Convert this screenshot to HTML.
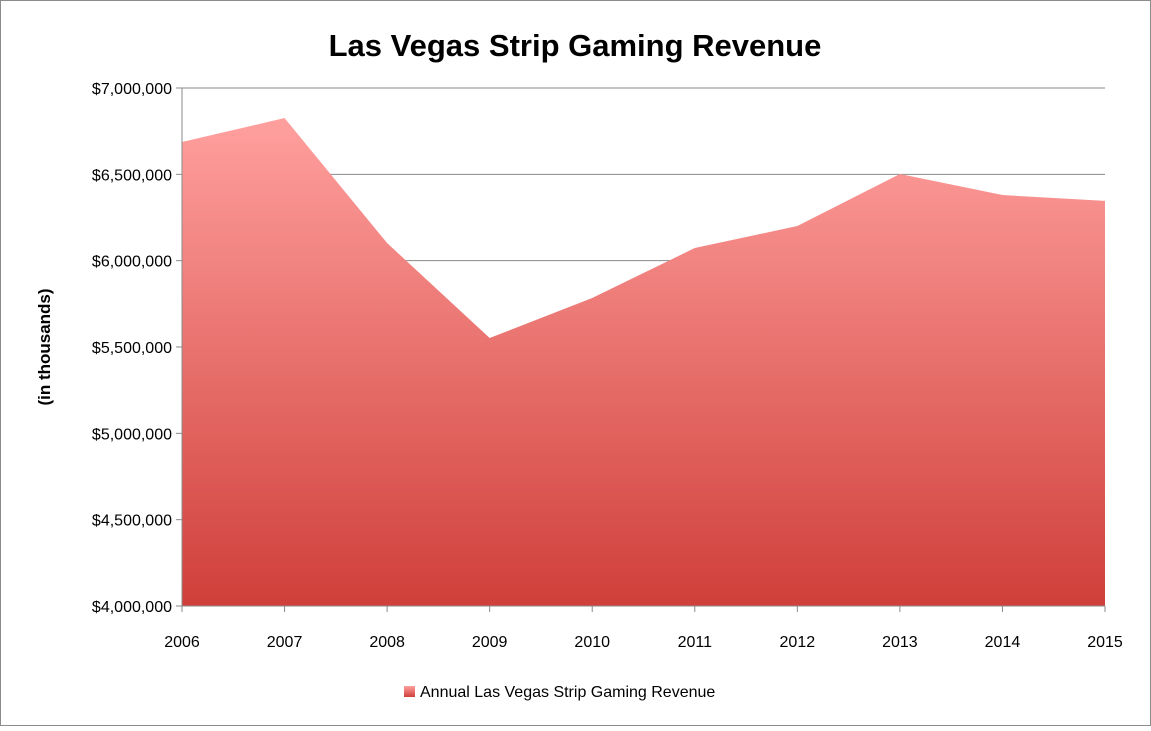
<!DOCTYPE html>
<html><head><meta charset="utf-8">
<style>
html,body{margin:0;padding:0;background:#fff;}
svg text{font-family:"Liberation Sans",sans-serif;}
</style></head>
<body>
<svg id="chart" width="1151" height="726" viewBox="0 0 1151 726" xmlns="http://www.w3.org/2000/svg">
<defs>
<linearGradient id="areaGrad" x1="0" y1="0" x2="0" y2="1" gradientUnits="objectBoundingBox">
<stop offset="0" stop-color="#ffa09e"/>
<stop offset="1" stop-color="#d03f3a"/>
</linearGradient>
<linearGradient id="legGrad" x1="0" y1="0" x2="0" y2="1">
<stop offset="0" stop-color="#ffa09e"/>
<stop offset="1" stop-color="#d03f3a"/>
</linearGradient>
</defs>
<rect x="0.5" y="0.5" width="1150" height="725" fill="#fff" stroke="#8c8c8c"/>
<text x="575" y="56" text-anchor="middle" font-size="31" font-weight="bold" fill="#000">Las Vegas Strip Gaming Revenue</text>
<text transform="translate(50,347) rotate(-90)" text-anchor="middle" font-size="17" font-weight="bold" fill="#000">(in thousands)</text>
<g id="grid"></g>
<g id="area"></g>
<g id="axes"></g>
<g>
<rect x="404" y="686" width="11" height="11" fill="url(#legGrad)"/>
<text x="420" y="697" font-size="16" fill="#000">Annual Las Vegas Strip Gaming Revenue</text>
</g>
</svg>
<script>
const years = ["2006","2007","2008","2009","2010","2011","2012","2013","2014","2015"];
const revenue = [6687000,6826000,6102000,5552000,5784000,6073000,6201000,6502000,6380000,6346000];
const yTicks = [4000000,4500000,5000000,5500000,6000000,6500000,7000000];
const yMin = 4000000, yMax = 7000000;
const x0 = 182, x1 = 1105, yTop = 88, yBot = 606;
const NS = "http://www.w3.org/2000/svg";
function xScale(i){return x0 + i*(x1-x0)/(years.length-1);}
function yScale(v){return yBot - (v-yMin)/(yMax-yMin)*(yBot-yTop);}
function mk(tag, attrs, parent){const e=document.createElementNS(NS,tag);for(const k in attrs)e.setAttribute(k,attrs[k]);parent.appendChild(e);return e;}
function fmt(v){return "$"+v.toLocaleString("en-US");}
const grid=document.getElementById("grid"), area=document.getElementById("area"), axes=document.getElementById("axes");
yTicks.forEach(t=>{
  const y=yScale(t);
  const l=mk("line",{x1:x0,x2:x1,y1:y,y2:y,stroke:"#8a8a8a","stroke-width":1},grid);
  
  
  const tk=mk("line",{x1:x0-6,x2:x0,y1:y,y2:y,stroke:"#8a8a8a"},axes);
  
  
  const tx=mk("text",{x:x0-10,y:y+6,"text-anchor":"end","font-size":16,fill:"#000"},axes);
  tx.textContent=fmt(t);
  
  
});
let d="M"+xScale(0)+","+yBot;
revenue.forEach((v,i)=>{d+=" L"+xScale(i)+","+yScale(v);});
d+=" L"+xScale(revenue.length-1)+","+yBot+" Z";
const p=mk("path",{d:d,fill:"url(#areaGrad)"},area);


const ya=mk("line",{x1:x0,x2:x0,y1:yTop,y2:yBot,stroke:"#8a8a8a"},axes);


const xa=mk("line",{x1:x0,x2:x1,y1:yBot,y2:yBot,stroke:"#8a8a8a"},axes);


years.forEach((yr,i)=>{
  const x=xScale(i);
  const tk=mk("line",{x1:x,x2:x,y1:yBot,y2:yBot+6,stroke:"#8a8a8a"},axes);
  
  
  const tx=mk("text",{x:x,y:yBot+41,"text-anchor":"middle","font-size":16,fill:"#000"},axes);
  tx.textContent=yr;
  
  
});
</script>
</body></html>
